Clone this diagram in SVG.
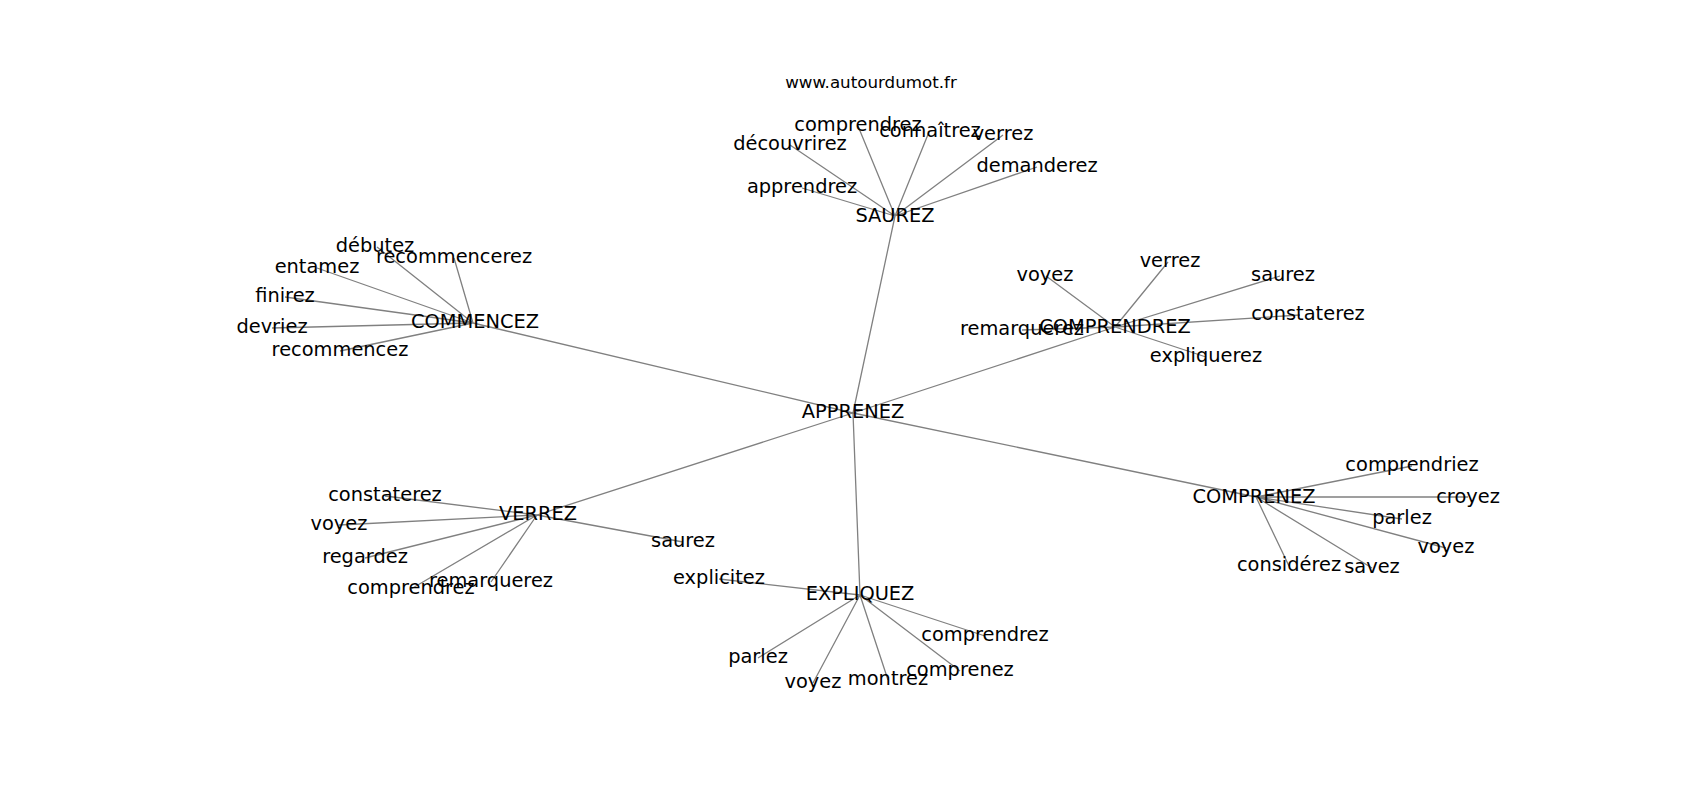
<svg xmlns="http://www.w3.org/2000/svg" width="1700" height="800" viewBox="0 0 1700 800">
<style>
.e{stroke:#808080;stroke-width:1.3;fill:none}
text{font-family:"DejaVu Sans",sans-serif;font-size:19.4px;fill:#000;text-anchor:middle}
.t{font-size:16.7px}
</style>
<rect width="1700" height="800" fill="#fff"/>
<g id="connectors">
<path class="e" d="M853 413L895 216M853 413L473 323M853 413L1115 327M853 413L537 515M853 413L860 595M853 413L1256 497"/>
<path class="e" d="M895 216L858 126M895 216L929 132M895 216L1003 135M895 216L790 145M895 216L1037 167M895 216L802 188"/>
<path class="e" d="M473 323L377 247M473 323L454 258M473 323L317 268M473 323L285 297M473 323L272 328M473 323L340 351"/>
<path class="e" d="M1115 327L1046 276M1115 327L1168 262M1115 327L1280 276M1115 327L1300 315M1115 327L1022 330M1115 327L1206 357"/>
<path class="e" d="M537 515L385 496M537 515L339 525M537 515L365 558M537 515L411 589M537 515L491 582M537 515L683 542"/>
<path class="e" d="M860 595L719 579M860 595L985 636M860 595L758 658M860 595L960 671M860 595L813 683M860 595L888 680"/>
<path class="e" d="M1256 497L1412 466M1256 497L1468 497M1256 497L1402 519M1256 497L1446 548M1256 497L1289 566M1256 497L1372 568"/>
</g>
<text class="t" x="871" y="88">www.autourdumot.fr</text>
<g id="n-apprenez"><text x="853" y="418">APPRENEZ</text></g>
<g id="n-saurez"><text x="895" y="222">SAUREZ</text></g>
<g id="n-s-comprendrez"><text x="858" y="131">comprendrez</text></g>
<g id="n-s-connaitrez"><text x="930" y="137">connaîtrez</text></g>
<g id="n-s-verrez"><text x="1003" y="140">verrez</text></g>
<g id="n-s-decouvrirez"><text x="790" y="150">découvrirez</text></g>
<g id="n-s-demanderez"><text x="1037" y="172">demanderez</text></g>
<g id="n-s-apprendrez"><text x="802" y="193">apprendrez</text></g>
<g id="n-commencez"><text x="475" y="328">COMMENCEZ</text></g>
<g id="n-c-debutez"><text x="375" y="252">débutez</text></g>
<g id="n-c-recommencerez"><text x="454" y="263">recommencerez</text></g>
<g id="n-c-entamez"><text x="317" y="273">entamez</text></g>
<g id="n-c-finirez"><text x="285" y="302">finirez</text></g>
<g id="n-c-devriez"><text x="272" y="333">devriez</text></g>
<g id="n-c-recommencez"><text x="340" y="356">recommencez</text></g>
<g id="n-comprendrez"><text x="1115" y="333">COMPRENDREZ</text></g>
<g id="n-cd-voyez"><text x="1045" y="281">voyez</text></g>
<g id="n-cd-verrez"><text x="1170" y="267">verrez</text></g>
<g id="n-cd-saurez"><text x="1283" y="281">saurez</text></g>
<g id="n-cd-constaterez"><text x="1308" y="320">constaterez</text></g>
<g id="n-cd-remarquerez"><text x="1022" y="335">remarquerez</text></g>
<g id="n-cd-expliquerez"><text x="1206" y="362">expliquerez</text></g>
<g id="n-verrez"><text x="538" y="520">VERREZ</text></g>
<g id="n-v-constaterez"><text x="385" y="501">constaterez</text></g>
<g id="n-v-voyez"><text x="339" y="530">voyez</text></g>
<g id="n-v-regardez"><text x="365" y="563">regardez</text></g>
<g id="n-v-comprendrez"><text x="411" y="594">comprendrez</text></g>
<g id="n-v-remarquerez"><text x="491" y="587">remarquerez</text></g>
<g id="n-v-saurez"><text x="683" y="547">saurez</text></g>
<g id="n-expliquez"><text x="860" y="600">EXPLIQUEZ</text></g>
<g id="n-e-explicitez"><text x="719" y="584">explicitez</text></g>
<g id="n-e-comprendrez"><text x="985" y="641">comprendrez</text></g>
<g id="n-e-parlez"><text x="758" y="663">parlez</text></g>
<g id="n-e-comprenez"><text x="960" y="676">comprenez</text></g>
<g id="n-e-voyez"><text x="813" y="688">voyez</text></g>
<g id="n-e-montrez"><text x="888" y="685">montrez</text></g>
<g id="n-comprenez"><text x="1254" y="503">COMPRENEZ</text></g>
<g id="n-cp-comprendriez"><text x="1412" y="471">comprendriez</text></g>
<g id="n-cp-croyez"><text x="1468" y="503">croyez</text></g>
<g id="n-cp-parlez"><text x="1402" y="524">parlez</text></g>
<g id="n-cp-voyez"><text x="1446" y="553">voyez</text></g>
<g id="n-cp-considerez"><text x="1289" y="571">considérez</text></g>
<g id="n-cp-savez"><text x="1372" y="573">savez</text></g>
</svg>
